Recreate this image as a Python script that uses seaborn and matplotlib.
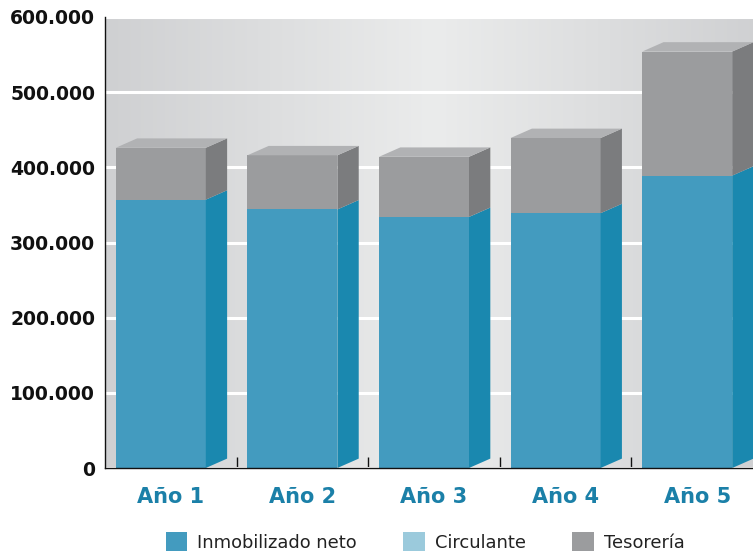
import numpy as np
import pandas as pd
import matplotlib
matplotlib.use("Agg")
import matplotlib.pyplot as plt
from matplotlib.colors import LinearSegmentedColormap
from matplotlib.patches import Patch, Polygon
import seaborn as sns

# Balance composition per year (euros)
years = ["Año 1", "Año 2", "Año 3", "Año 4", "Año 5"]
inmovilizado = [357000, 344000, 334000, 339000, 389000]
circulante = [0, 0, 0, 0, 0]
tesoreria = [69000, 72000, 80000, 100000, 165000]
y_ticks = [0, 100000, 200000, 300000, 400000, 500000, 600000]
legend_labels = ["Inmobilizado neto", "Circulante", "Tesorería"]

# Face colours: (front, side, top)
blue = ("#439bbf", "#1a88af", "#5aaccb")
light_blue = ("#9bcadc", "#7fb6cc", "#b5d8e6")
grey = ("#9b9c9e", "#7b7c7e", "#b1b2b4")
label_blue = "#1b80a8"

df = pd.DataFrame({"year": years, "inmov": inmovilizado,
                   "circ": circulante, "tes": tesoreria})
df["lvl1"] = df["inmov"]
df["lvl2"] = df["inmov"] + df["circ"]
df["lvl3"] = df["lvl2"] + df["tes"]

fig = plt.figure(figsize=(7.53, 5.54), dpi=100)
ax = fig.add_axes([105 / 753, (554 - 468) / 554, 658 / 753, 451 / 554])

# Soft horizontal gradient behind the plot
grad_cmap = LinearSegmentedColormap.from_list(
    "panel", ["#cfd0d2", "#ebecec", "#cfd0d2"])
ax.imshow(np.linspace(0, 1, 256).reshape(1, -1), cmap=grad_cmap,
          extent=[0, 1, 0, 1], transform=ax.transAxes, aspect="auto",
          zorder=0, interpolation="bicubic")

front_w = 0.684
shift = -0.076
depth_x = 0.162
depth_y = 12500

segments = [("lvl3", grey), ("lvl2", light_blue), ("lvl1", blue)]
bars = {}
for col, shades in segments:
    n0 = len(ax.patches)
    sns.barplot(data=df, x="year", y=col, color=shades[0], saturation=1,
                width=front_w, ax=ax, zorder=3, linewidth=0)
    bars[col] = ax.patches[n0:]
    for p in bars[col]:
        p.set_x(p.get_x() + shift)

# Side faces of each stacked segment and the top face of each column
stack = [("lvl1", None, blue), ("lvl2", "lvl1", light_blue), ("lvl3", "lvl2", grey)]
for i in range(len(years)):
    front = bars["lvl3"][i]
    xl = front.get_x()
    xr = xl + front.get_width()
    for col, below, shades in stack:
        y1 = df[col].iloc[i]
        y0 = 0 if below is None else df[below].iloc[i]
        if y1 <= y0:
            continue
        ax.add_patch(Polygon([(xr, y0), (xr + depth_x, y0 + depth_y),
                              (xr + depth_x, y1 + depth_y), (xr, y1)],
                             closed=True, facecolor=shades[1],
                             edgecolor="none", zorder=3))
    yt = df["lvl3"].iloc[i]
    ax.add_patch(Polygon([(xl, yt), (xl + depth_x, yt + depth_y),
                          (xr + depth_x, yt + depth_y), (xr, yt)],
                         closed=True, facecolor=grey[2],
                         edgecolor="none", zorder=3))

ax.set_xlim(-0.5, 4.5)
ax.set_ylim(0, 600000)
ax.set_xlabel("")
ax.set_ylabel("")

ax.set_yticks(y_ticks)
ax.set_yticklabels([f"{v:,.0f}".replace(",", ".") for v in y_ticks],
                   fontsize=13.5, fontweight="bold", color="#111111")
ax.tick_params(axis="y", length=0, pad=7)
ax.yaxis.grid(True, color="white", linewidth=2.2)
ax.set_axisbelow(True)

ax.set_xticks(range(len(years)))
ax.set_xticklabels(years, fontsize=15, fontweight="bold", color=label_blue)
ax.tick_params(axis="x", which="major", length=0, pad=14)
ax.set_xticks([0.5, 1.5, 2.5, 3.5], minor=True)
ax.tick_params(axis="x", which="minor", direction="in", length=8,
               width=1.0, color="#111111")

for side in ["top", "right"]:
    ax.spines[side].set_visible(False)
for side in ["left", "bottom"]:
    ax.spines[side].set_color("#111111")
    ax.spines[side].set_linewidth(1.0)
    ax.spines[side].set_zorder(5)

handles = [Patch(facecolor=c[0], edgecolor="none")
           for c in (blue, light_blue, grey)]
fig.legend(handles, legend_labels, loc="center", ncol=3,
           bbox_to_anchor=(425 / 753, 1 - 542 / 554), frameon=False,
           fontsize=12.9, handlelength=1.2, handleheight=1.2,
           handletextpad=0.55, columnspacing=2.6, labelcolor="#222222")

fig.savefig("out.png", dpi=100)
